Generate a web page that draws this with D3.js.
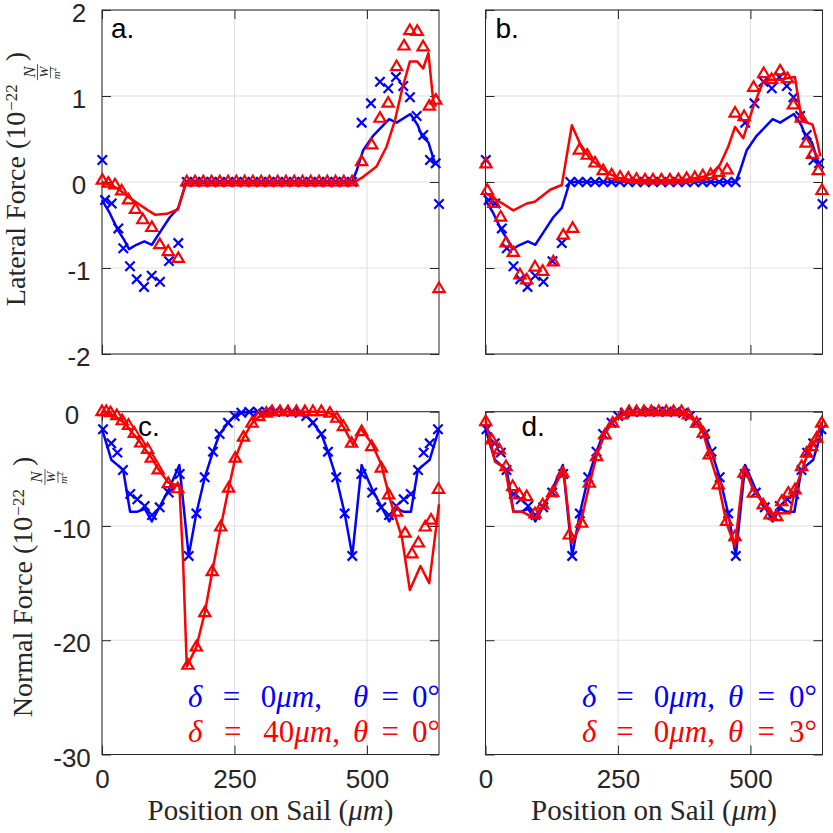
<!DOCTYPE html>
<html>
<head>
<meta charset="utf-8">
<script src="https://cdn.jsdelivr.net/npm/d3@7"></script>
<style>
  body { margin: 0; background: #fff; }
  svg { display: block; }
  .tick text { font-family: "Liberation Sans", Arial, sans-serif; }
</style>
</head>
<body>
<svg id="chart" width="833" height="833"></svg>
<script>
// ---- data (positions in µm, forces in 1e-22 N/(W/m^2)) ----
const xTicks = [0, 250, 500];
const latTicks = [-2, -1, 0, 1, 2];
const normTicks = [-30, -20, -10, 0];

// lateral force, δ=0 θ=0 (blue, shared by a and b)
const latBaseMarks = [[0.6,0.256],[5.7,-0.21],[18.3,-0.25],[30.8,-0.54],[40.2,-0.77],[52.8,-0.98],[65.5,-1.13],[79.3,-1.22],[93.8,-1.09],[109.4,-1.16],[126.4,-0.92],[144,-0.71],
  [160,0],[175.6,0],[191.2,0],[206.8,0],[222.4,0],[238,0],[253.6,0],[269.2,0],[284.8,0],[300.4,0],[316,0],[331.6,0],[347.2,0],[362.8,0],[378.4,0],[394,0],[409.6,0],[425.2,0],[440.8,0],[456.4,0],[472,0],
  [490,0.69],[507.6,0.915],[524.6,1.166],[540.3,1.09],[554.8,1.22],[568.6,1.116],[581.2,0.985],[593.8,0.767],[606.3,0.546],[619,0.256],[629.7,0.217],[636,-0.256]];
const latBaseLine = [[0,-0.21],[14.5,-0.36],[30,-0.56],[41.5,-0.67],[51,-0.78],[65,-0.73],[80,-0.69],[94,-0.73],[112,-0.56],[128,-0.41],[144,-0.3],[159,0],[472,0],[481,0.14],[493,0.37],[512,0.54],[531,0.66],[542,0.73],[556,0.69],[582,0.79],[596,0.66],[604,0.53],[616,0.46],[625,0.28],[630,0.2]];

// a. δ=40µm θ=0 (red)
const latAMarks = [[0.6,0.02],[12,-0.015],[24.5,-0.035],[37,-0.105],[50,-0.21],[63,-0.32],[77,-0.44],[94,-0.53],[109,-0.73],[125,-0.81],[144,-0.89],
  [160,0],[175.6,0],[191.2,0],[206.8,0],[222.4,0],[238,0],[253.6,0],[269.2,0],[284.8,0],[300.4,0],[316,0],[331.6,0],[347.2,0],[362.8,0],[378.4,0],[394,0],[409.6,0],[425.2,0],[440.8,0],[456.4,0],[472,0],
  [490,0.236],[509,0.43],[524.6,0.74],[540,0.915],[556,1.34],[570,1.58],[581,1.76],[595,1.75],[606,1.57],[617.6,0.88],[630,0.95],[636,-1.24]];
const latALine = [[0,0],[17.5,-0.035],[33,-0.09],[49,-0.17],[68,-0.25],[87,-0.33],[100,-0.38],[122,-0.37],[143,-0.32],[159,0],[477,0],[493,0.06],[518,0.18],[537,0.41],[553,0.72],[566,1.07],[581,1.4],[595,1.4],[606,1.32],[616,1.5],[625,0.95],[630,0.875]];

// b. δ=0 θ=3° (red)
const latBMarks = [[1,0.21],[3.4,-0.1],[16,-0.25],[28.6,-0.41],[38.7,-0.71],[52.5,-0.82],[65,-1.08],[77.7,-1.14],[93.4,-0.99],[108,-1.04],[128,-0.93],[146.8,-0.62],[164.5,-0.54],
  [177,0.37],[192,0.31],[206.6,0.22],[222,0.13],[238,0.08],[254,0.055],[269.5,0.043],[285,0.03],[301,0.023],[316,0.023],[332,0.023],[348,0.023],[364,0.025],[379.5,0.04],[395,0.05],[410,0.07],[425,0.085],[440,0.11],[456,0.14],
  [471,0.8],[488,0.76],[506,1.1],[525,1.26],[540,1.19],[556,1.29],[570,1.2],[581,0.895],[596,0.74],[605,0.45],[617,0.32],[628,0.13],[635,-0.1]];
const latBLine = [[0,-0.13],[27,-0.23],[52.5,-0.33],[78,-0.25],[93,-0.23],[122,-0.09],[144,-0.035],[163,0.66],[178,0.45],[197,0.275],[216,0.18],[232,0.1],[250,0.05],[270,0.03],[300,0.02],[340,0.02],[380,0.03],[411,0.06],[427,0.1],[442.5,0.2],[458,0.41],[471,0.64],[486.5,0.51],[505.4,0.876],[524,1.17],[540,1.19],[556,1.19],[571,1.21],[584,1.22],[597,0.71],[617,0.67],[625,0.5],[632,0.3]];

// normal force, δ=0 θ=0 (blue, shared by c and d)
const normBaseMarks = [[1.9,-1.54],[17.5,-2.77],[28.9,-3.58],[39.6,-5.1],[53.4,-7.2],[66.6,-7.67],[80.6,-8.25],[94.3,-9.04],[108.9,-8.37],[125.9,-7.08],[146.6,-5.45],[163.6,-12.62],[178,-8.9],[193.8,-5.74],[209.5,-3.5],[222,-1.95],[237.8,-0.96],[250.4,-0.38],[263,-0.09],[278,-0.02],[294,0],[310,0],
  [326,0],[342,0],[358,-0.02],[373,-0.09],[385.6,-0.38],[398,-0.96],[414,-1.95],[426.5,-3.5],[442,-5.74],[458,-8.9],[472.4,-12.62],[489.4,-5.45],[510,-7.08],[527,-8.37],[541.7,-9.04],[555.4,-8.25],[569.4,-7.67],[582.6,-7.2],[596.4,-5.1],[607,-3.58],[618.5,-2.77],[634,-1.54]];
const normBaseLine = [[0,-1.5],[17.5,-4.2],[30,-4.7],[40,-5.1],[53,-8.75],[67,-8.75],[81,-8.5],[94,-9.6],[109,-8.3],[126,-6.8],[146,-4.66],[163.6,-12.6],[178,-8.9],[194,-5.74],[209.5,-3.5],[222,-1.95],[238,-0.96],[250,-0.38],[263,-0.09],[278,-0.02],[294,0],[310,0],
  [326,0],[342,0],[358,-0.02],[373,-0.09],[386,-0.38],[398,-0.96],[414,-1.95],[426.5,-3.5],[442,-5.74],[458,-8.9],[472.4,-12.6],[490,-4.66],[510,-6.8],[527,-8.3],[542,-9.6],[555,-8.5],[569,-8.75],[583,-8.75],[596,-5.1],[606,-4.7],[618.5,-4.2],[636,-1.5]];

// c. δ=40µm θ=0 (red)
const normCMarks = [[0,0],[8,0],[16,-0.1],[28,-0.35],[38,-0.8],[50,-1.2],[61,-1.9],[73,-2.75],[86,-3.3],[93,-4.08],[106,-5.1],[125,-6.3],[143,-6.75],[162,-22.2],[178,-20.6],[194,-17.6],[208,-14],[224,-10.1],[239,-6.7],[251.5,-4.08],[267,-2.24],[283,-1.02],[296,-0.44],[310,-0.14],
  [321,0],[336,0],[351,0],[367,0],[383,0],[398,0],[414,0],[430,-0.14],[443,-0.58],[455.5,-1.31],[471,-2.77],[490,-1.75],[509,-3.06],[527,-4.95],[541,-7.29],[556,-8.8],[572,-10.64],[585,-12.45],[597,-11.5],[610,-10.1],[621,-9.5],[635,-6.8]];
const normCLine = [[0,0],[21,-0.3],[43,-1],[58,-1.9],[71,-2.6],[93,-4],[106,-5],[125,-6.2],[146,-6.5],[153,-13],[160,-22.3],[178,-20.6],[194,-17.6],[208,-14],[224,-10.1],[239,-6.7],[251.5,-4.08],[267,-2.24],[283,-1.02],[296,-0.44],[310,-0.14],[321,0],[414,0],[430,-0.14],[443,-0.58],[455.5,-1.31],[474,-2.91],[488,-1.45],[509,-2.77],[527,-4.6],[543.6,-7.7],[566,-11],[581,-15.6],[601,-13.5],[617.6,-15],[636,-8.1]];

// d. δ=0 θ=3° (red)
const normDMarks = [[0.4,-0.87],[11.7,-2.48],[26,-3.35],[38.7,-4.81],[51.3,-6.56],[63.8,-7.29],[77.7,-7.44],[93.4,-8.95],[108,-8.16],[126.8,-7.09],[145.7,-5.39],[158,-10.8],[181.5,-9.77],[195.9,-6.27],[209.8,-3.94],[225.5,-2.04],[240,-1.02],[257,-0.29],[271,0],[285,0],[299,0],[313,0],[327,0],[341,0],[355,0],[370,0],
  [382.6,-0.29],[398.5,-1.02],[411,-1.89],[422.3,-3.79],[439.4,-6.41],[455,-9.62],[470.8,-10.94],[487.8,-5.39],[505.4,-7.14],[524,-8.16],[537,-9.04],[549.5,-9.19],[559,-7.87],[571.4,-7.14],[584,-6.85],[596.6,-4.81],[606,-3.64],[615.6,-3.06],[625,-2.33],[634.4,-1.02]];
const normDLine = [[0,-0.73],[18,-4.37],[36.8,-4.95],[52.5,-8.75],[68.3,-8.75],[93.4,-9.33],[109,-8.16],[128,-6.85],[146.8,-4.95],[162.7,-11.5],[178,-10.06],[196,-6.41],[210,-3.79],[225.5,-1.89],[241,-0.87],[257,-0.29],[271,0],[370,0],[382.6,-0.29],[398.5,-1.02],[411,-1.89],[423.6,-3.94],[439.4,-6.27],[455,-9.77],[470.8,-11.8],[487.8,-4.81],[505.4,-6.85],[524,-8.01],[540,-9.04],[555.7,-8.89],[574.6,-8.89],[584,-6.85],[599.7,-4.81],[609,-3.5],[621.8,-2.62],[634.4,-0.87]];

const BLUE = "#0000ff", RED = "#ff0000", INK = "#262626";
const SERIF = "Liberation Serif, serif";

const svg = d3.select("#chart");

const panels = [
  { id: "a.", left: 102, top: 10, bottom: 354, yDomain: [-2, 2], yTicks: latTicks, showY: true, showX: false,
    blueLine: latBaseLine, blueMarks: latBaseMarks, redLine: latALine, redMarks: latAMarks, labelDx: 9, labelDy: 28, yLabX: 79 },
  { id: "b.", left: 485.5, top: 10, bottom: 354, yDomain: [-2, 2], yTicks: latTicks, showY: false, showX: false,
    blueLine: latBaseLine, blueMarks: latBaseMarks, redLine: latBLine, redMarks: latBMarks, labelDx: 10, labelDy: 28 },
  { id: "c.", left: 102, top: 411.7, bottom: 754.5, yDomain: [-30, 0], yTicks: normTicks, showY: true, showX: true,
    blueLine: normBaseLine, blueMarks: normBaseMarks, redLine: normCLine, redMarks: normCMarks, labelDx: 36, labelDy: 24.5, yLabX: 72 },
  { id: "d.", left: 485.5, top: 411.7, bottom: 754.5, yDomain: [-30, 0], yTicks: normTicks, showY: false, showX: true,
    blueLine: normBaseLine, blueMarks: normBaseMarks, redLine: normDLine, redMarks: normDMarks, labelDx: 36, labelDy: 24.5 }
];
const plotW = 337;
const tickLen = 9;

panels.forEach(drawPanel);

function drawPanel(p) {
  const x = d3.scaleLinear().domain([0, 636]).range([p.left, p.left + plotW]);
  const y = d3.scaleLinear().domain(p.yDomain).range([p.bottom, p.top]);
  const g = svg.append("g");

  // grid
  g.append("g").selectAll("line").data(xTicks).join("line")
    .attr("x1", d => x(d)).attr("x2", d => x(d)).attr("y1", p.top).attr("y2", p.bottom)
    .attr("stroke", "#dfdfdf").attr("stroke-width", 1);
  g.append("g").selectAll("line").data(p.yTicks).join("line")
    .attr("x1", p.left).attr("x2", p.left + plotW).attr("y1", d => y(d)).attr("y2", d => y(d))
    .attr("stroke", "#dfdfdf").attr("stroke-width", 1);

  // axes, ticks pointing inward on all four sides
  const fmt = d => String(d).replace("\u2212", "-");
  const axL = g.append("g").attr("transform", `translate(${p.left},0)`)
    .call(d3.axisLeft(y).tickValues(p.yTicks).tickSize(-tickLen).tickFormat(p.showY ? fmt : ""));
  const axR = g.append("g").attr("transform", `translate(${p.left + plotW},0)`)
    .call(d3.axisRight(y).tickValues(p.yTicks).tickSize(-tickLen).tickFormat(""));
  const axB = g.append("g").attr("transform", `translate(0,${p.bottom})`)
    .call(d3.axisBottom(x).tickValues(xTicks).tickSize(-tickLen).tickFormat(p.showX ? fmt : ""));
  const axT = g.append("g").attr("transform", `translate(0,${p.top})`)
    .call(d3.axisTop(x).tickValues(xTicks).tickSize(-tickLen).tickFormat(""));
  [axL, axR, axB, axT].forEach(a => {
    a.select(".domain").remove();
    a.selectAll("line").attr("stroke", INK);
    a.selectAll("text").attr("fill", INK).style("font-size", "26px");
  });
  if (p.showY) {
    axL.selectAll("text").attr("text-anchor", "middle")
      .attr("x", -(p.left - p.yLabX)).attr("dy", "0.45em");
  }
  if (p.showX) {
    axB.selectAll("text").attr("y", 33).attr("dy", 0);
  }

  g.append("rect").attr("x", p.left).attr("y", p.top).attr("width", plotW).attr("height", p.bottom - p.top)
    .attr("fill", "none").attr("stroke", INK).attr("stroke-width", 1);

  const line = d3.line().x(d => x(d[0])).y(d => y(d[1]));

  // blue: δ=0, θ=0
  g.append("path").datum(p.blueLine).attr("d", line)
    .attr("fill", "none").attr("stroke", BLUE).attr("stroke-width", 2.5).attr("stroke-linejoin", "round");
  const s = 4.7;
  g.append("g").selectAll("path").data(p.blueMarks).join("path")
    .attr("transform", d => `translate(${x(d[0])},${y(d[1])})`)
    .attr("d", `M${-s},${-s}L${s},${s}M${-s},${s}L${s},${-s}`)
    .attr("stroke", BLUE).attr("stroke-width", 2.2).attr("fill", "none");

  // red
  g.append("path").datum(p.redLine).attr("d", line)
    .attr("fill", "none").attr("stroke", RED).attr("stroke-width", 2.5).attr("stroke-linejoin", "round");
  g.append("g").selectAll("path").data(p.redMarks).join("path")
    .attr("transform", d => `translate(${x(d[0])},${y(d[1])})`)
    .attr("d", "M0,-6.2L5.6,3.4L-5.6,3.4Z")
    .attr("stroke", RED).attr("stroke-width", 2.2).attr("fill", "none").attr("stroke-linejoin", "miter");

  g.append("text").attr("x", p.left + p.labelDx).attr("y", p.top + p.labelDy)
    .attr("font-family", "Liberation Sans, Arial, sans-serif").attr("font-size", 28).attr("fill", "#000")
    .text(p.id);

  if (p.showX) {
    const t = g.append("text").attr("x", p.left + plotW / 2).attr("y", 820)
      .attr("text-anchor", "middle").attr("font-family", SERIF).attr("font-size", 29).attr("fill", INK);
    t.append("tspan").text("Position on Sail (");
    t.append("tspan").attr("font-style", "italic").text("\u03bcm");
    t.append("tspan").text(")");
  }
}

// legends in c and d: "δ = ..µm," part from the left, "θ = ..°" part to the right,
// word spacing stretched so each part spans its extent in the reference
function fitParts(t, x0, x1) {
  const nat = t.node().getComputedTextLength();
  t.attr("word-spacing", Math.max(0, ((x1 - x0) - nat) / 2));
}
function legendLine(xl, xc, xt, xr, yb, color, delta, theta) {
  const a = svg.append("text").attr("x", xl).attr("y", yb)
    .attr("font-family", SERIF).attr("font-size", 31).attr("fill", color).attr("xml:space", "preserve");
  a.append("tspan").attr("font-style", "italic").text("\u03b4");
  a.append("tspan").text(" = " + delta);
  a.append("tspan").attr("font-style", "italic").text("\u03bcm");
  a.append("tspan").text(",");
  fitParts(a, xl, xc);
  const b = svg.append("text").attr("x", xr).attr("y", yb).attr("text-anchor", "end")
    .attr("font-family", SERIF).attr("font-size", 31).attr("fill", color).attr("xml:space", "preserve");
  b.append("tspan").attr("font-style", "italic").text("\u03b8");
  b.append("tspan").text(" = " + theta + "\u00b0");
  fitParts(b, xt, xr);
}
legendLine(188, 322, 353, 440, 707, BLUE, "0", "0");
legendLine(188, 340, 353, 440, 742, RED, "40", "0");
legendLine(582, 715, 728, 817, 707, BLUE, "0", "0");
legendLine(582, 715, 728, 817, 742, RED, "0", "3");

// rotated y labels with the N/(W/m^2) fraction
function yLabel(cx, cy, name) {
  const g = svg.append("g");
  const main = g.append("text").attr("font-family", SERIF).attr("font-size", 28).attr("fill", INK)
    .text(name + " (10");
  let w = main.node().getComputedTextLength();
  const sup = g.append("text").attr("x", w + 1).attr("y", -8).attr("font-family", SERIF).attr("font-size", 17).attr("fill", INK)
    .text("\u221222");
  w += 1 + sup.node().getComputedTextLength() + 4;
  const fx = w;
  g.append("text").attr("x", fx + 8).attr("y", 10).attr("text-anchor", "middle")
    .attr("font-family", SERIF).attr("font-style", "italic").attr("font-size", 17).attr("fill", INK).text("N");
  g.append("line").attr("x1", fx).attr("x2", fx + 16).attr("y1", 13).attr("y2", 13).attr("stroke", INK).attr("stroke-width", 0.8);
  g.append("text").attr("x", fx + 8).attr("y", 23).attr("text-anchor", "middle")
    .attr("font-family", SERIF).attr("font-style", "italic").attr("font-size", 13).attr("fill", INK).text("W");
  g.append("line").attr("x1", fx + 2).attr("x2", fx + 14).attr("y1", 26).attr("y2", 26).attr("stroke", INK).attr("stroke-width", 0.7);
  g.append("text").attr("x", fx + 7).attr("y", 35).attr("text-anchor", "middle")
    .attr("font-family", SERIF).attr("font-style", "italic").attr("font-size", 11).attr("fill", INK).text("m")
    .append("tspan").attr("dy", -4).attr("font-size", 8).attr("font-style", "normal").text("2");
  w = fx + 19;
  const close = g.append("text").attr("x", w).attr("font-family", SERIF).attr("font-size", 28).attr("fill", INK).text(")");
  w += close.node().getComputedTextLength();
  g.attr("transform", `translate(${cx},${cy + w / 2}) rotate(-90)`);
}
yLabel(24.5, 179, "Lateral Force");
yLabel(32, 587, "Normal Force");
</script>
</body>
</html>
